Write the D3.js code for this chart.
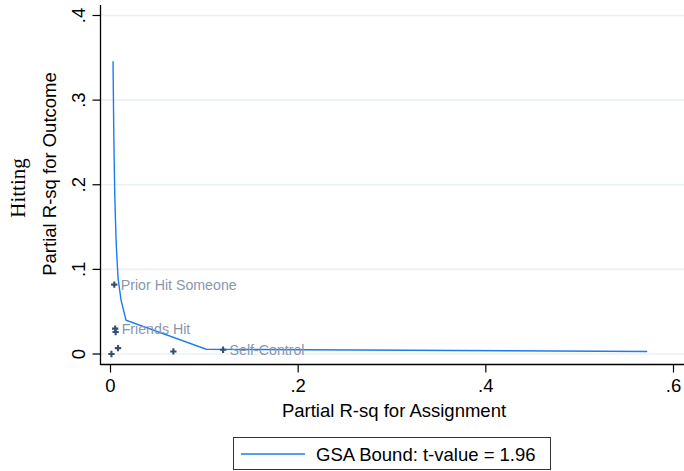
<!DOCTYPE html>
<html><head><meta charset="utf-8">
<script src="https://cdn.jsdelivr.net/npm/d3@7"></script>
<style>body{margin:0;background:#fff}svg{display:block}</style>
</head><body>
<script>
// Data
const boundX = [0.0027, 0.0035, 0.0045, 0.0059, 0.0080, 0.0112, 0.0165, 0.102, 0.572];
const boundY = [0.346, 0.26, 0.19, 0.135, 0.09, 0.064, 0.040, 0.0056, 0.003];
const pointX = [0.004, 0.005, 0.0055, 0.001, 0.008, 0.067, 0.120];
const pointY = [0.082, 0.030, 0.026, 0.000, 0.007, 0.003, 0.005];
const pointLabels = ["Prior Hit Someone", "Friends Hit", "", "", "", "", "Self-Control"];
const xTicks = [0, 0.2, 0.4, 0.6];
const xTickLabels = ["0", ".2", ".4", ".6"];
const yTicks = [0, 0.1, 0.2, 0.3, 0.4];
const yTickLabels = ["0", ".1", ".2", ".3", ".4"];
const legendLabel = "GSA Bound: t-value = 1.96";

const W = 684, H = 471;
const svg = d3.select("body").append("svg").attr("width", W).attr("height", H);

const x = d3.scaleLinear().domain([0, 0.6]).range([110.5, 673.5]);
const y = d3.scaleLinear().domain([0, 0.4]).range([354, 15.5]);
const pLeft = 100.5, pRight = 684, pBottom = 364.5, pTop = 5;
const font = "Arial, Liberation Sans, sans-serif";
const fs = 18.5;

// gridlines
svg.append("g").selectAll("line").data(yTicks).join("line")
  .attr("x1", pLeft).attr("x2", pRight)
  .attr("y1", d => y(d)).attr("y2", d => y(d))
  .attr("stroke", "#eaf2f3").attr("stroke-width", 1.6);

// bound line
const line = d3.line().x(d => x(d[0])).y(d => y(d[1]));
svg.append("path").datum(boundX.map((v, i) => [v, boundY[i]]))
  .attr("d", line).attr("fill", "none").attr("stroke", "#1a7cf5").attr("stroke-width", 1.4);

// points
const pts = pointX.map((v, i) => ({x: v, y: pointY[i], l: pointLabels[i]}));
svg.append("g").selectAll("path").data(pts).join("path")
  .attr("transform", d => `translate(${x(d.x)},${y(d.y)})`)
  .attr("d", d3.symbol().type(d3.symbolCross).size(22))
  .attr("fill", "#36506c");
svg.append("g").selectAll("text").data(pts.filter(d => d.l)).join("text")
  .attr("x", d => x(d.x) + 6.5).attr("y", d => y(d.y) + 5)
  .attr("font-family", font).attr("font-size", 14.2)
  .attr("fill", "#8797ad").text(d => d.l);

// axes
svg.append("line").attr("x1", pLeft).attr("x2", pLeft).attr("y1", pTop).attr("y2", pBottom + 0.5)
  .attr("stroke", "#000").attr("stroke-width", 1.3);
svg.append("line").attr("x1", pLeft).attr("x2", pRight).attr("y1", pBottom).attr("y2", pBottom)
  .attr("stroke", "#000").attr("stroke-width", 1.3);

const yg = svg.append("g");
yg.selectAll("line").data(yTicks).join("line")
  .attr("x1", pLeft - 8).attr("x2", pLeft).attr("y1", d => y(d)).attr("y2", d => y(d))
  .attr("stroke", "#000").attr("stroke-width", 1.2);
yg.selectAll("text").data(yTicks).join("text")
  .attr("transform", d => `translate(85,${y(d)}) rotate(-90)`)
  .attr("text-anchor", "middle").attr("font-family", font).attr("font-size", fs)
  .text((d, i) => yTickLabels[i]);

const xg = svg.append("g");
xg.selectAll("line").data(xTicks).join("line")
  .attr("x1", d => x(d)).attr("x2", d => x(d)).attr("y1", pBottom).attr("y2", pBottom + 8)
  .attr("stroke", "#000").attr("stroke-width", 1.2);
xg.selectAll("text").data(xTicks).join("text")
  .attr("x", d => x(d)).attr("y", 392)
  .attr("text-anchor", "middle").attr("font-family", font).attr("font-size", fs)
  .text((d, i) => xTickLabels[i]);

// titles
svg.append("text").attr("x", 394).attr("y", 417).attr("text-anchor", "middle")
  .attr("font-family", font).attr("font-size", fs).text("Partial R-sq for Assignment");
svg.append("text").attr("transform", "translate(56,174) rotate(-90)").attr("text-anchor", "middle")
  .attr("font-family", font).attr("font-size", fs).text("Partial R-sq for Outcome");
svg.append("text").attr("transform", "translate(25,188) rotate(-90)").attr("text-anchor", "middle")
  .attr("font-family", "Liberation Serif, Times New Roman, serif").attr("font-size", 21).text("Hitting");

// legend
svg.append("rect").attr("x", 233.5).attr("y", 437.5).attr("width", 317).attr("height", 32)
  .attr("fill", "#fff").attr("stroke", "#333").attr("stroke-width", 1);
svg.append("line").attr("x1", 241).attr("x2", 305).attr("y1", 454).attr("y2", 454)
  .attr("stroke", "#1a7cf5").attr("stroke-width", 1.4);
svg.append("text").attr("x", 316).attr("y", 460.5).attr("font-family", font).attr("font-size", fs)
  .text(legendLabel);
</script>
</body></html>
